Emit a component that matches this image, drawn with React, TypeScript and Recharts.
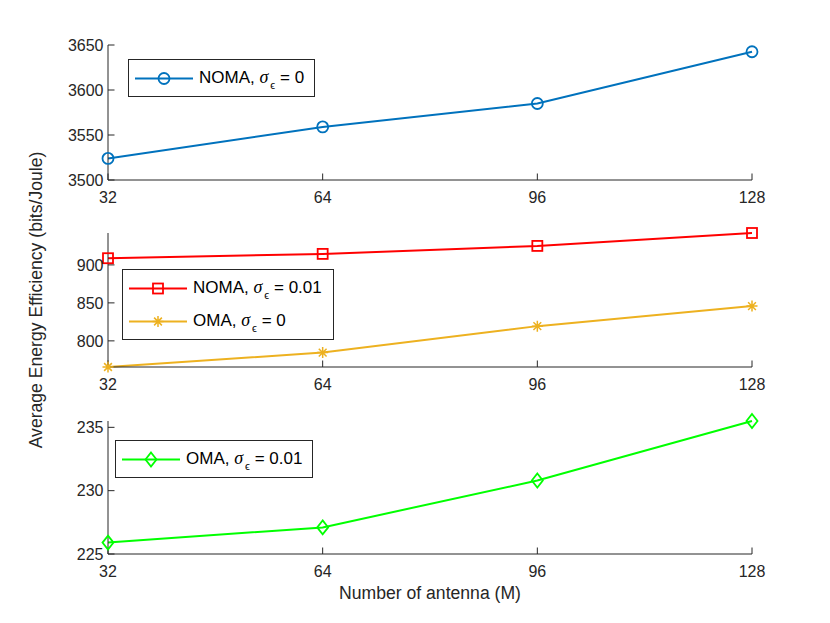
import React from 'react';
import { LineChart, Line, XAxis, YAxis, Legend } from 'recharts';

// ---- data ----
const antennaCounts = [32, 64, 96, 128];
const nomaPerfectCsi = [3524, 3559, 3585, 3642.5];
const nomaImperfectCsi = [908.8, 914.5, 925, 942];
const omaPerfectCsi = [765.6, 784.6, 819.4, 845.8];
const omaImperfectCsi = [225.9, 227.1, 230.8, 235.5];

const xTicks = [32, 64, 96, 128];
const topYTicks = [3500, 3550, 3600, 3650];
const midYTicks = [800, 850, 900];
const bottomYTicks = [225, 230, 235];

const schemeNames = { nomaP: 'NOMA', nomaI: 'NOMA', omaP: 'OMA', omaI: 'OMA' };
const sigmaValues = { nomaP: '0', nomaI: '0.01', omaP: '0', omaI: '0.01' };

const yLabelText = 'Average Energy Efficiency (bits/Joule)';
const xLabelText = 'Number of antenna (M)';

const tableData = antennaCounts.map((m, i) => ({
  m,
  nomaP: nomaPerfectCsi[i],
  nomaI: nomaImperfectCsi[i],
  omaP: omaPerfectCsi[i],
  omaI: omaImperfectCsi[i],
}));

type Shape = 'circle' | 'square' | 'asterisk' | 'diamond';
const seriesStyle: Record<string, { color: string; shape: Shape }> = {
  nomaP: { color: '#0072BD', shape: 'circle' },
  nomaI: { color: '#FF0000', shape: 'square' },
  omaP: { color: '#EDB120', shape: 'asterisk' },
  omaI: { color: '#00FF00', shape: 'diamond' },
};

const FONT = '"Liberation Sans", Arial, Helvetica, sans-serif';
const AXIS_COLOR = '#262626';

function Marker({ shape, cx, cy, color }: { shape: Shape; cx: number; cy: number; color: string }) {
  const sw = 1.8;
  if (cx == null || cy == null) return <g />;
  switch (shape) {
    case 'circle':
      return <circle cx={cx} cy={cy} r={5.5} fill="none" stroke={color} strokeWidth={sw} />;
    case 'square':
      return <rect x={cx - 5} y={cy - 5} width={10} height={10} fill="none" stroke={color} strokeWidth={sw} />;
    case 'diamond':
      return (
        <path
          d={`M${cx} ${cy - 7}L${cx + 5.5} ${cy}L${cx} ${cy + 7}L${cx - 5.5} ${cy}Z`}
          fill="none"
          stroke={color}
          strokeWidth={sw}
        />
      );
    case 'asterisk': {
      const r = 5.5;
      const d = r * 0.7071;
      return (
        <path
          d={`M${cx - r} ${cy}H${cx + r}M${cx} ${cy - r}V${cy + r}M${cx - d} ${cy - d}L${cx + d} ${cy + d}M${cx - d} ${cy + d}L${cx + d} ${cy - d}`}
          stroke={color}
          strokeWidth={1.5}
          fill="none"
        />
      );
    }
  }
  return <g />;
}

const makeDot = (key: string) => (p: any) => (
  <Marker
    key={`${key}-${p.index}`}
    shape={seriesStyle[key].shape}
    cx={p.cx}
    cy={p.cy}
    color={seriesStyle[key].color}
  />
);

const emptyTick = () => <g />;

const makeLegend = (width: number, keys: string[]) => (props: any) => {
  const seen = new Set<string>();
  const payload = (props.payload || []).filter((e: any) => {
    const k = e.dataKey as string;
    if (!keys.includes(k) || e.type === 'none' || seen.has(k)) return false;
    seen.add(k);
    return true;
  });
  return (
    <div
      style={{
        width,
        boxSizing: 'border-box',
        border: `1px solid ${AXIS_COLOR}`,
        background: '#fff',
        padding: '1.5px 0',
        fontFamily: FONT,
      }}
    >
      {payload.map((entry: any) => {
        const key = entry.dataKey as string;
        const st = seriesStyle[key];
        return (
          <div key={key} style={{ height: 33, display: 'flex', alignItems: 'center' }}>
            <svg width={70} height={33} style={{ flex: 'none', display: 'block' }}>
              <line x1={6} x2={64} y1={16.5} y2={16.5} stroke={st.color} strokeWidth={2} />
              <Marker shape={st.shape} cx={35} cy={16.5} color={st.color} />
            </svg>
            <span style={{ fontSize: 17, color: '#000', whiteSpace: 'nowrap', lineHeight: '33px' }}>
              {schemeNames[key as keyof typeof schemeNames]},{' '}
              <span style={{ fontStyle: 'italic', fontFamily: '"Liberation Serif", serif', fontSize: 18 }}>σ</span>
              <span style={{ fontSize: 11, position: 'relative', top: 6, marginLeft: 2 }}>ϵ</span>
              {' '}= {sigmaValues[key as keyof typeof sigmaValues]}
            </span>
          </div>
        );
      })}
    </div>
  );
};

const yLabelContent = (props: any) => {
  const vb = props.viewBox || {};
  const x = vb.x + 36;
  const y = vb.y + vb.height / 2;
  return (
    <text
      x={x}
      y={y}
      transform={`rotate(-90 ${x} ${y})`}
      textAnchor="middle"
      dy="0.35em"
      fontFamily={FONT}
      fontSize={17.6}
      fill={AXIS_COLOR}
    >
      {yLabelText}
    </text>
  );
};

const xLabelContent = (props: any) => {
  const vb = props.viewBox || {};
  const x = vb.x + vb.width / 2;
  const y = vb.y + 39;
  return (
    <text x={x} y={y} textAnchor="middle" dy="0.35em" fontFamily={FONT} fontSize={17.6} fill={AXIS_COLOR}>
      {xLabelText}
    </text>
  );
};

const W = 830;
const H = 623;
const PLOT_LEFT = 108;
const PLOT_RIGHT = 752;
const XH = 30;
const TICK = -6.5;

const tickStyle = { fill: AXIS_COLOR, fontSize: 16, fontFamily: FONT };

interface PanelProps {
  plotTop: number;
  plotBottom: number;
  yDomain: [number, number];
  yTicks: number[];
  keys: string[];
  legend: { left: number; top: number; width: number };
  yLabel?: boolean;
  xLabel?: boolean;
}

function Panel({ plotTop, plotBottom, yDomain, yTicks, keys, legend, yLabel, xLabel }: PanelProps) {
  return (
    <div style={{ position: 'absolute', left: 0, top: 0 }}>
      <LineChart
        width={W}
        height={H}
        data={tableData}
        margin={{ top: plotTop, right: W - PLOT_RIGHT, left: 0, bottom: H - plotBottom - XH }}
      >
        <XAxis
          xAxisId="b"
          dataKey="m"
          type="number"
          domain={[32, 128]}
          ticks={xTicks}
          height={XH}
          tickSize={TICK}
          tickMargin={18}
          tick={tickStyle}
          stroke={AXIS_COLOR}
          axisLine={{ stroke: AXIS_COLOR }}
          tickLine={{ stroke: AXIS_COLOR }}
          interval={0}
          label={xLabel ? { content: xLabelContent } : undefined}
        />
        <XAxis
          xAxisId="t"
          dataKey="m"
          type="number"
          orientation="top"
          domain={[32, 128]}
          ticks={xTicks}
          height={0}
          tickSize={TICK}
          tick={emptyTick}
          axisLine={{ stroke: AXIS_COLOR }}
          tickLine={{ stroke: AXIS_COLOR }}
          interval={0}
        />
        <YAxis
          yAxisId="l"
          type="number"
          domain={yDomain}
          ticks={yTicks}
          width={PLOT_LEFT}
          tickSize={TICK}
          tickMargin={11}
          tick={tickStyle}
          axisLine={{ stroke: AXIS_COLOR }}
          tickLine={{ stroke: AXIS_COLOR }}
          interval={0}
          label={yLabel ? { content: yLabelContent } : undefined}
        />
        <YAxis
          yAxisId="r"
          type="number"
          orientation="right"
          domain={yDomain}
          ticks={yTicks}
          width={0}
          tickSize={TICK}
          tick={emptyTick}
          axisLine={{ stroke: AXIS_COLOR }}
          tickLine={{ stroke: AXIS_COLOR }}
          allowDataOverflow
          interval={0}
        />
        <Legend
          layout="vertical"
          align="center"
          verticalAlign="middle"
          content={makeLegend(legend.width, keys)}
          wrapperStyle={{ left: legend.left, top: legend.top, width: legend.width, height: 'auto' }}
        />
        <Line
          xAxisId="t"
          yAxisId="r"
          dataKey="m"
          stroke="none"
          dot={false}
          activeDot={false}
          legendType="none"
          isAnimationActive={false}
        />
        {keys.map((k) => (
          <Line
            key={k}
            xAxisId="b"
            yAxisId="l"
            dataKey={k}
            name={`${schemeNames[k as keyof typeof schemeNames]}, σϵ = ${sigmaValues[k as keyof typeof sigmaValues]}`}
            stroke={seriesStyle[k].color}
            strokeWidth={2}
            dot={makeDot(k)}
            activeDot={false}
            isAnimationActive={false}
          />
        ))}
      </LineChart>
    </div>
  );
}

export default function App() {
  return (
    <div style={{ position: 'absolute', left: 0, top: 0, width: W, height: H, background: '#fff', overflow: 'hidden' }}>
      <Panel
        plotTop={45}
        plotBottom={180}
        yDomain={[3500, 3650]}
        yTicks={topYTicks}
        keys={['nomaP']}
        legend={{ left: 128, top: 59, width: 187 }}
      />
      <Panel
        plotTop={233}
        plotBottom={367}
        yDomain={[Math.min(...omaPerfectCsi), Math.max(...nomaImperfectCsi)]}
        yTicks={midYTicks}
        keys={['nomaI', 'omaP']}
        legend={{ left: 122, top: 269, width: 212 }}
        yLabel
      />
      <Panel
        plotTop={421}
        plotBottom={554}
        yDomain={[225, 235.5]}
        yTicks={bottomYTicks}
        keys={['omaI']}
        legend={{ left: 115, top: 440, width: 198 }}
        xLabel
      />
    </div>
  );
}
